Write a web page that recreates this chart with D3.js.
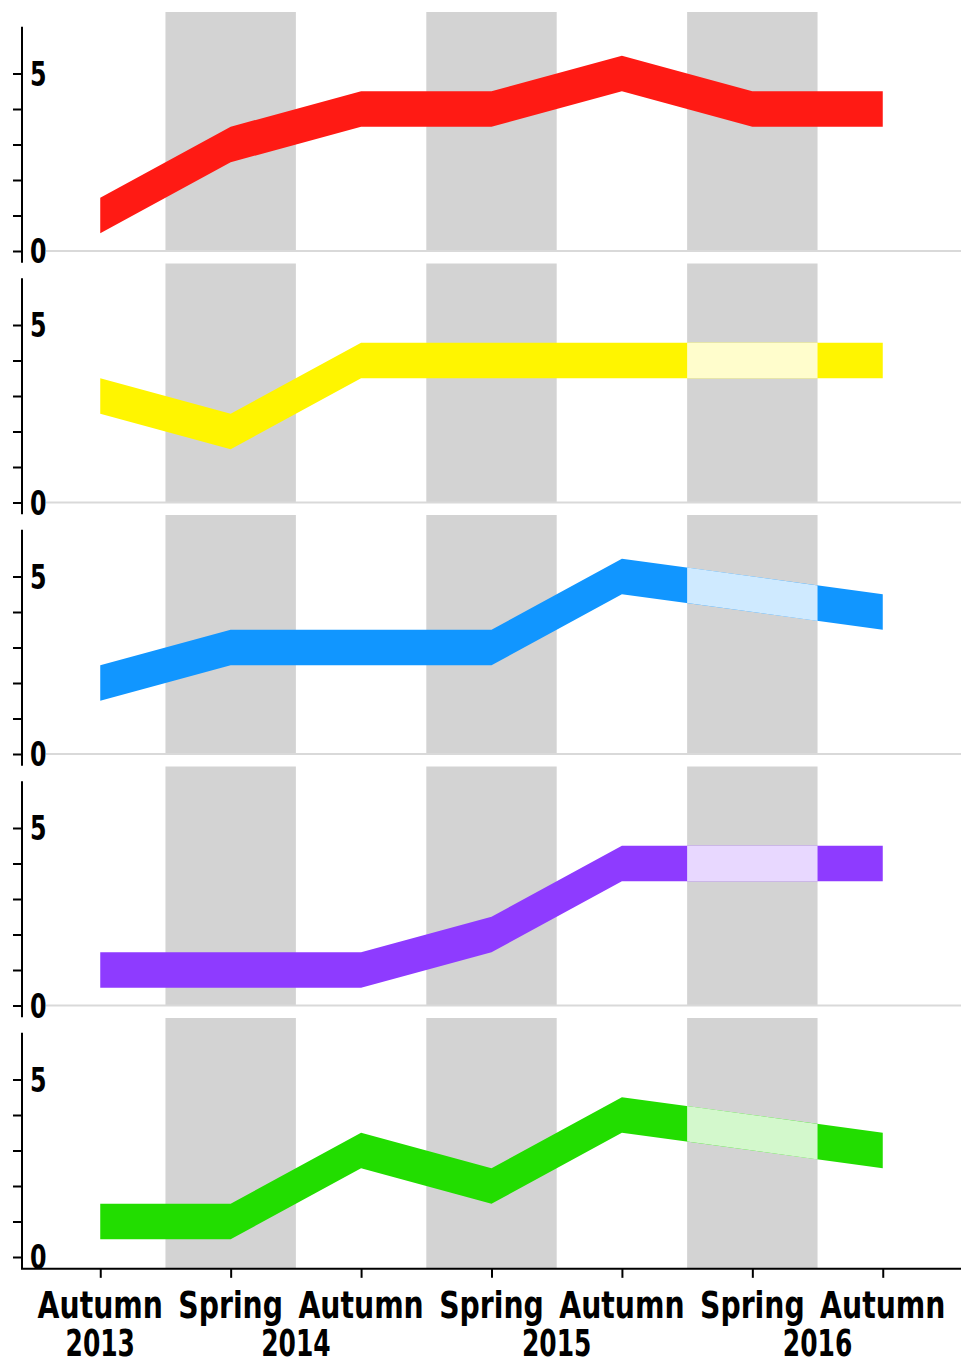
<!DOCTYPE html>
<html>
<head>
<meta charset="utf-8">
<script src="https://cdn.jsdelivr.net/npm/d3@7"></script>
<style>
  body { margin: 0; background: #fff; }
  text { font-family: "DejaVu Sans Condensed", "DejaVu Sans", sans-serif; font-weight: bold; fill: #000; }
</style>
</head>
<body>
<div id="chart"></div>
<script>
// the data
const seasons = ["Autumn", "Spring", "Autumn", "Spring", "Autumn", "Spring", "Autumn"]
const yearLabels = ["2013", "2014", "2015", "2016"]
const yTicks = [0, 1, 2, 3, 4, 5]

const red = [1, 3, 4, 4, 5, 4, 4]
const yellow = [3, 2, 4, 4, 4, null, 4]
const blue = [2, 3, 3, 3, 5, null, 4]
const purple = [1, 1, 1, 2, 4, null, 4]
const green = [1, 1, 3, 2, 4, null, 3]

const series = [red, yellow, blue, purple, green]
const colors = ["#ff1a14", "#fff500", "#1196ff", "#8e3bff", "#22dd00"]

//defaults for the chart
const width = 961
const height = 1364
const axisX = 22
const firstTop = 12
const panelStep = 251.5
const panelHeight = 239
const unit = 35.5
const bandHalf = 0.5
const grey = "#d3d3d3"

const chart = d3.select('#chart')
  .append('svg')
  .attr('width', width)
  .attr('height', height)

const xScale = d3.scaleLinear()
  .domain([-0.6, 6.6])
  .range([axisX, width])

// the spring periods get a grey band
const springs = seasons.map((s, i) => i).filter(i => seasons[i] === "Spring")

const drawPanel = function (values, color, p) {
  const top = firstTop + p * panelStep
  const zero = top + panelHeight
  const last = p === series.length - 1

  const yScale = d3.scaleLinear()
    .domain([0, panelHeight / unit])
    .range([zero, top])

  const g = chart.append('g').attr('class', 'panel')

  g.selectAll('rect.band')
    .data(springs)
    .enter()
    .append('rect')
    .attr('class', 'band')
    .attr('x', d => xScale(d - 0.5))
    .attr('width', d => xScale(d + 0.5) - xScale(d - 0.5))
    .attr('y', top)
    .attr('height', d => (last ? yScale(-1 / 3) : zero) - top)
    .style('fill', grey)

  if (!last) {
    g.append('line')
      .attr('x1', axisX + 24)
      .attr('x2', width)
      .attr('y1', zero)
      .attr('y2', zero)
      .style('stroke', '#d9d9d9')
      .style('stroke-width', 2)
  }

  const points = values.map((v, i) => ({ i: i, v: v })).filter(d => d.v !== null)

  const area = d3.area()
    .x(d => xScale(d.i))
    .y0(d => yScale(d.v - bandHalf))
    .y1(d => yScale(d.v + bandHalf))

  g.append('path')
    .attr('d', area(points))
    .style('fill', color)

  // missing values: the bridged part inside the band is drawn pale
  values.forEach((v, i) => {
    if (v !== null) return
    const id = 'clip' + p + '_' + i
    g.append('clipPath')
      .attr('id', id)
      .append('rect')
      .attr('x', xScale(i - 0.5))
      .attr('width', xScale(i + 0.5) - xScale(i - 0.5))
      .attr('y', top)
      .attr('height', panelHeight)
    g.append('path')
      .attr('d', area(points))
      .attr('clip-path', 'url(#' + id + ')')
      .style('fill', d3.interpolateRgb(color, '#fff')(0.8))
  })

  // y axis
  const yAxis = d3.axisLeft(yScale)
    .tickValues(yTicks)
    .tickSize(9)
    .tickFormat(d => d % 5 === 0 ? d : "")

  const ax = g.append('g')
    .attr('transform', 'translate(' + axisX + ',0)')
    .call(yAxis)

  ax.select('.domain').remove()
  ax.selectAll('.tick line').style('stroke', '#000').style('stroke-width', 2)
  // narrow, tall digits like the original
  ax.selectAll('.tick text')
    .attr('x', 0)
    .attr('dy', '0.36em')
    .attr('transform', 'translate(8,0) scale(0.8,1)')
    .style('text-anchor', 'start')
    .style('font-size', '33px')
    .style('font-family', null)

  ax.append('line')
    .attr('y1', yScale(-1 / 3))
    .attr('y2', yScale(6.32))
    .style('stroke', '#000')
    .style('stroke-width', 2)

  return yScale
}

let bottomScale = null
series.forEach((values, p) => {
  bottomScale = drawPanel(values, colors[p], p)
})

// x axis under the last panel
const axisY = bottomScale(-1 / 3)

const xAxis = d3.axisBottom(xScale)
  .tickValues(seasons.map((s, i) => i))
  .tickSize(9)
  .tickFormat("")

const xg = chart.append('g')
  .attr('transform', 'translate(0,' + axisY + ')')
  .call(xAxis)

xg.select('.domain').remove()
xg.selectAll('.tick line').style('stroke', '#000').style('stroke-width', 2)
xg.append('line')
  .attr('x1', axisX - 1)
  .attr('x2', width)
  .style('stroke', '#000')
  .style('stroke-width', 2)

chart.selectAll('text.season')
  .data(seasons)
  .enter()
  .append('text')
  .attr('class', 'season')
  .attr('transform', (d, i) => 'translate(' + xScale(i) + ',' + (axisY + 49) + ') scale(0.85,1)')
  .style('text-anchor', 'middle')
  .style('font-size', '37px')
  .text(d => d)

// first year under the first tick, the others at the end of each spring band
const yearPos = [0].concat(springs.map(i => i + 0.5))

chart.selectAll('text.year')
  .data(yearLabels)
  .enter()
  .append('text')
  .attr('class', 'year')
  .attr('transform', (d, i) => 'translate(' + xScale(yearPos[i]) + ',' + (axisY + 87) + ') scale(0.75,1)')
  .style('text-anchor', 'middle')
  .style('font-size', '37px')
  .text(d => d)
</script>
</body>
</html>
